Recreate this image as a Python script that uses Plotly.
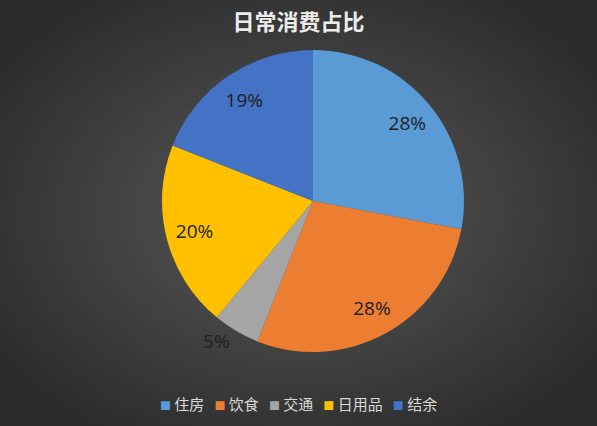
import plotly.graph_objects as go
import urllib.parse

categories = ["住房", "饮食", "交通", "日用品", "结余"]
values = [28, 28, 5, 20, 19]
colors = ["#5B9BD5", "#ED7D31", "#A5A5A5", "#FFC000", "#4472C4"]
text_positions = ["inside", "inside", "outside", "inside", "inside"]

W, H = 597, 426

svg = (
    '<svg xmlns="http://www.w3.org/2000/svg" width="597" height="426">'
    '<defs><radialGradient id="g" cx="50%" cy="50%" r="60%">'
    '<stop offset="0%" stop-color="#5a5a5a"/>'
    '<stop offset="100%" stop-color="#2c2c2c"/>'
    '</radialGradient></defs>'
    '<rect width="597" height="426" fill="url(#g)"/></svg>'
)
bg_uri = "data:image/svg+xml;charset=utf-8," + urllib.parse.quote(svg)

domain = dict(x=[162 / W, 464 / W], y=[(H - 352) / H, (H - 50) / H])
label_font = dict(family="Open Sans, Liberation Sans, sans-serif", size=19, color="#1e1e1e")

# coloured slices
pie = go.Pie(
    labels=categories,
    values=values,
    sort=False,
    direction="clockwise",
    rotation=0,
    marker=dict(colors=colors, line=dict(width=0)),
    textinfo="none",
    hoverinfo="label+percent",
    showlegend=False,
    domain=domain,
)

# transparent ring carrying the percentage labels further out, like Excel
labels_ring = go.Pie(
    labels=categories,
    values=values,
    sort=False,
    direction="clockwise",
    rotation=0,
    hole=0.62,
    marker=dict(colors=["rgba(0,0,0,0)"] * len(values), line=dict(width=0)),
    texttemplate="%{percent:.0%}",
    textposition=text_positions,
    insidetextorientation="horizontal",
    textfont=label_font,
    outsidetextfont=label_font,
    hoverinfo="skip",
    showlegend=False,
    domain=domain,
)

fig = go.Figure([pie, labels_ring])

# compact Excel-style legend line built from the categories and colours
nb = "\u00a0"
legend_text = (nb * 3).join(
    f'<span style="color:{c};font-size:11px">■</span>{nb}{name}'
    for name, c in zip(categories, colors)
)

fig.add_annotation(
    text=legend_text,
    xref="paper",
    yref="paper",
    x=0.5,
    y=1 - 403 / H,
    xanchor="center",
    yanchor="middle",
    showarrow=False,
    font=dict(family="Noto Sans CJK SC", size=15, color="#d9d9d9"),
)

fig.update_layout(
    width=W,
    height=H,
    margin=dict(l=0, r=0, t=0, b=0),
    paper_bgcolor="#3b3b3b",
    plot_bgcolor="rgba(0,0,0,0)",
    images=[
        dict(
            source=bg_uri,
            xref="paper",
            yref="paper",
            x=0,
            y=1,
            sizex=1,
            sizey=1,
            sizing="stretch",
            xanchor="left",
            yanchor="top",
            layer="below",
        )
    ],
    title=dict(
        text="<b>日常消费占比</b>",
        x=0.5,
        xanchor="center",
        y=1 - 22 / H,
        yanchor="middle",
        font=dict(family="Noto Sans CJK SC", size=22, color="#ececec"),
    ),
    showlegend=False,
)

fig.write_html(
    "out.html",
    config={"displayModeBar": False},
    post_script="document.body.style.margin='0';",
)
